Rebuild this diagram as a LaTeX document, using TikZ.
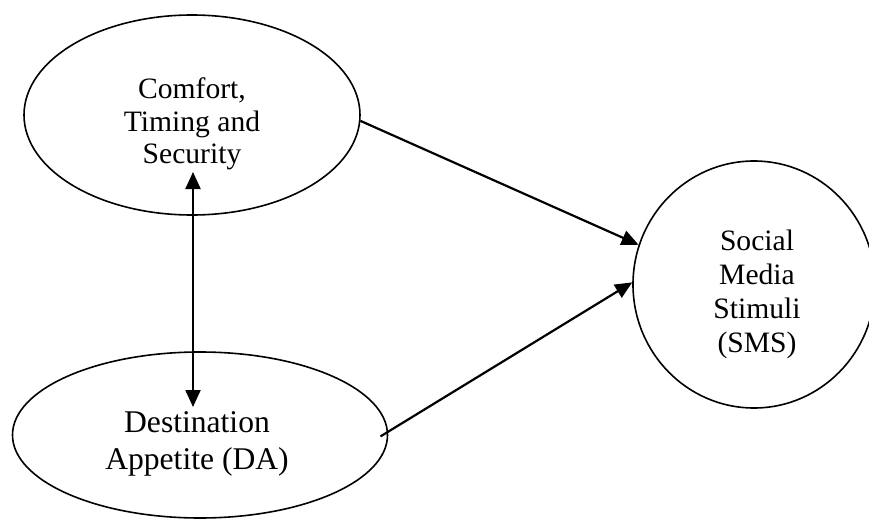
\documentclass[tikz,border=0pt]{standalone}
\usepackage{fontspec}
\setmainfont{Liberation Serif}
\usetikzlibrary{shapes.geometric, arrows.meta, calc}

\begin{document}
\begin{tikzpicture}[x=0.5pt, y=-0.5pt,
    construct/.style={draw, ellipse, line width=0.8pt, inner sep=0pt},
    caption/.style={align=center, inner sep=0pt},
    path/.style={line width=1.1pt, -{Triangle[length=8.5pt, width=7.5pt]}}]
    \useasboundingbox (0,0) rectangle (869,520);
    % latent constructs
    \node[construct, minimum width=168pt, minimum height=100pt] (cts) at (192,115) {};
    \node[construct, minimum width=187.5pt, minimum height=83pt] (da) at (200,435) {};
    \node[construct, minimum width=121pt, minimum height=123.5pt] (sms) at (754,284.5) {};
    \node[caption, font=\fontsize{14.8}{16.25}\selectfont] (ctstext) at (192,124)
          {Comfort,\\Timing and\\Security};
    \node[caption, font=\fontsize{15.8}{18.5}\selectfont] (datext) at (197,444)
          {Destination\\Appetite (DA)};
    \node[caption, font=\fontsize{14.8}{17}\selectfont] (smstext) at (757,294)
          {Social\\Media\\Stimuli\\(SMS)};
    % paths
    \coordinate (ctsfoot) at ([xshift=0.5pt, yshift=-28.5pt]cts.center);
    \coordinate (dahead) at ([xshift=-3.5pt, yshift=14pt]da.center);
    \draw[path, {Triangle[length=8.5pt, width=7.5pt]}-{Triangle[length=8.5pt, width=7.5pt]}]
          (ctsfoot) -- (dahead);
    \draw[path] (cts.-2) -- (sms.161);
    \draw[path, shorten <=-4.5pt] (da.1) -- (sms.179);
\end{tikzpicture}
\end{document}
